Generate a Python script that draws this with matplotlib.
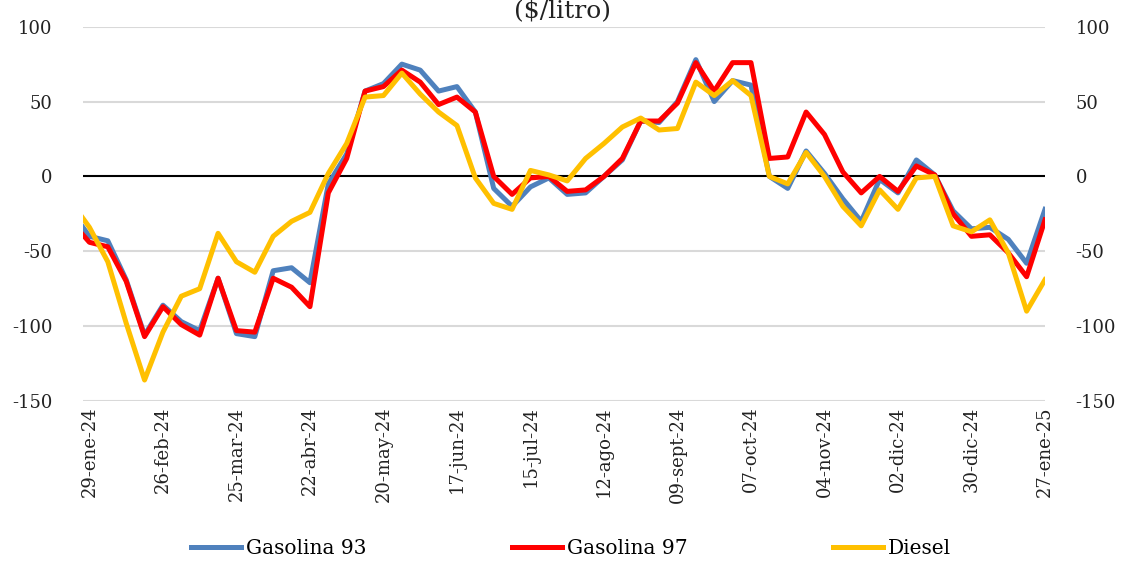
import matplotlib
matplotlib.use("Agg")
import matplotlib.pyplot as plt

# Datos semanales (la primera semana, 22-ene-24, queda recortada por el eje)
semanas = list(range(-1, 53))

gasolina_93 = [-23, -40, -43, -69, -106, -86, -97, -103, -68, -105, -107, -63, -61, -71,
               -5, 15, 57, 62, 75, 71, 57, 60, 43, -8, -20, -7, -1, -12, -11, 0, 11, 37,
               36, 50, 78, 50, 64, 61, 0, -8, 17, 2, -15, -30, -2, -11, 11, 1, -23, -35,
               -34, -42, -58, -22]

gasolina_97 = [-30, -44, -47, -70, -107, -87, -99, -106, -68, -103, -104, -68, -74, -87,
               -11, 12, 57, 60, 71, 63, 48, 53, 43, 0, -12, -1, 0, -10, -9, 0, 12, 37,
               37, 49, 76, 57, 76, 76, 12, 13, 43, 28, 3, -11, 0, -10, 7, 1, -25, -40,
               -39, -51, -67, -29]

diesel = [-17, -34, -57, -98, -136, -104, -80, -75, -38, -57, -64, -40, -30, -24,
          2, 22, 53, 54, 69, 55, 43, 34, -1, -18, -22, 4, 1, -3, 12, 22, 33, 39,
          31, 32, 63, 54, 64, 54, 0, -5, 16, 0, -20, -33, -9, -22, -1, 0, -33, -37,
          -29, -51, -90, -69]

etiquetas_fecha = ["29-ene-24", "26-feb-24", "25-mar-24", "22-abr-24", "20-may-24",
                   "17-jun-24", "15-jul-24", "12-ago-24", "09-sept-24", "07-oct-24",
                   "04-nov-24", "02-dic-24", "30-dic-24", "27-ene-25"]
posiciones_fecha = list(range(0, 53, 4))

plt.rcParams["font.family"] = "DejaVu Serif"
plt.rcParams["axes.unicode_minus"] = False

fig = plt.figure(figsize=(11.24, 5.61), dpi=100)
ax = fig.add_axes([83 / 1124, 1 - 401 / 561, (1045 - 83) / 1124, (401 - 26.7) / 561])

ax.plot(semanas, gasolina_93, color="#4F81BD", linewidth=3.6, label="Gasolina 93")
ax.plot(semanas, gasolina_97, color="#FF0000", linewidth=3.6, label="Gasolina 97")
ax.plot(semanas, diesel, color="#FFC000", linewidth=3.6, label="Diesel")

ax.set_xlim(-0.35, 52)
ax.set_ylim(-150, 100)
ax.set_yticks([-150, -100, -50, 0, 50, 100])
for v in [-150, -100, -50, 50, 100]:
    ax.axhline(v, color="#d9d9d9", linewidth=1.5, zorder=0)
ax.axhline(0, color="black", linewidth=1.5, zorder=1)

ax.set_xticks(posiciones_fecha)
ax.set_xticklabels(etiquetas_fecha, rotation=90)

for lado in ["top", "bottom", "left", "right"]:
    ax.spines[lado].set_visible(False)
ax.tick_params(axis="y", length=0, labelsize=13, pad=22, labelright=True, colors="#222222")
ax.tick_params(axis="x", length=0, labelsize=13, pad=4, colors="#222222")

fig.text(0.5, 1 - 12 / 561, "($/litro)", ha="center", va="center", fontsize=18, color="#222222")

fig.legend(loc="center", bbox_to_anchor=(571 / 1124, 1 - 549 / 561), ncol=3, frameon=False,
           fontsize=14.5, handlelength=2.5, handletextpad=0.25, columnspacing=7.2)

fig.savefig("out.png", dpi=100)
